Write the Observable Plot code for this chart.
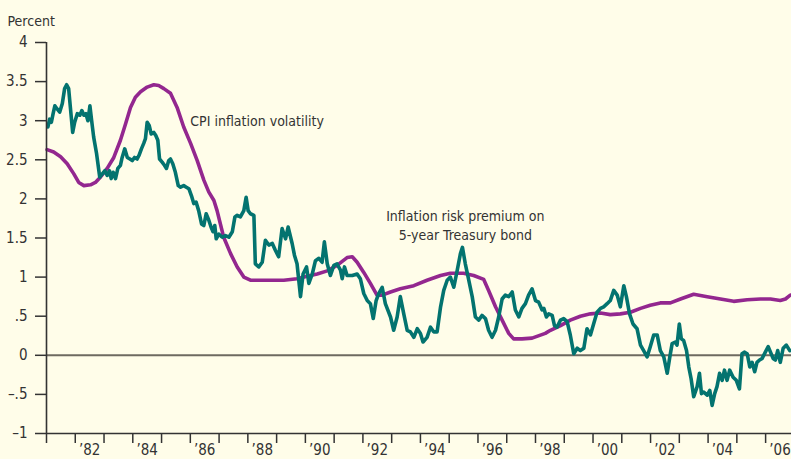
<!DOCTYPE html>
<html><head><meta charset="utf-8">
<script src="https://cdn.jsdelivr.net/npm/d3@7"></script>
<script src="https://cdn.jsdelivr.net/npm/@observablehq/plot@0.6"></script>
<style>
html,body{margin:0;padding:0;background:#FFFDE9;}
#chart svg{display:block;}
</style></head><body><div id="chart"></div>
<script>
// Inflation risk premium on 5-year Treasury bond (teal)
const premiumDates = [1981.05,1981.11,1981.17,1981.23,1981.29,1981.37,1981.46,1981.55,1981.63,1981.70,1981.77,1981.83,1981.91,1981.98,
1982.07,1982.16,1982.23,1982.30,1982.37,1982.44,1982.51,1982.57,1982.64,1982.74,1982.85,1982.94,
1983.03,1983.11,1983.19,1983.25,1983.32,1983.40,1983.48,1983.57,1983.63,1983.72,1983.81,1983.90,1983.98,
1984.06,1984.15,1984.22,1984.30,1984.38,1984.44,1984.50,1984.57,1984.64,1984.73,1984.80,1984.87,1984.93,
1985.02,1985.10,1985.17,1985.25,1985.31,1985.39,1985.48,1985.58,1985.66,1985.77,1985.86,1985.95,
1986.04,1986.12,1986.20,1986.29,1986.39,1986.47,1986.55,1986.64,1986.72,1986.79,1986.85,1986.90,1986.99,
1987.11,1987.22,1987.34,1987.46,1987.55,1987.63,1987.74,1987.86,1987.94,
1988.01,1988.09,1988.21,1988.26,1988.38,1988.50,1988.61,1988.73,1988.85,1988.96,
1989.07,1989.19,1989.31,1989.40,1989.54,1989.62,1989.71,1989.83,1989.92,
1990.04,1990.12,1990.24,1990.35,1990.47,1990.58,1990.66,1990.76,1990.87,1990.99,
1991.10,1991.22,1991.28,1991.36,1991.45,1991.63,1991.80,1991.91,
1992.03,1992.15,1992.26,1992.36,1992.46,1992.55,1992.67,1992.78,1992.96,
1993.07,1993.19,1993.30,1993.42,1993.54,1993.65,1993.77,1993.89,
1994.00,1994.09,1994.23,1994.35,1994.46,1994.58,1994.70,1994.81,1994.93,
1995.04,1995.16,1995.28,1995.39,1995.46,1995.56,1995.68,1995.80,1995.91,
1996.03,1996.14,1996.26,1996.37,1996.49,1996.61,1996.72,1996.84,1996.95,
1997.07,1997.19,1997.30,1997.42,1997.53,1997.65,1997.76,1997.88,
1998.00,1998.11,1998.23,1998.29,1998.38,1998.46,1998.58,1998.66,1998.75,1998.87,1998.98,
1999.10,1999.21,1999.33,1999.45,1999.56,1999.68,1999.79,1999.91,
2000.02,2000.14,2000.26,2000.37,2000.49,2000.60,2000.72,2000.84,2000.95,
2001.07,2001.16,2001.27,2001.39,2001.53,2001.65,2001.76,2001.88,2001.99,
2002.11,2002.23,2002.34,2002.46,2002.58,2002.67,2002.75,2002.86,2002.92,
2003.00,2003.07,2003.15,2003.25,2003.33,2003.41,2003.50,2003.62,2003.70,2003.77,2003.85,2003.97,
2004.06,2004.14,2004.23,2004.31,2004.40,2004.49,2004.57,2004.66,2004.75,2004.87,2004.98,
2005.09,2005.18,2005.26,2005.36,2005.45,2005.53,2005.62,2005.70,2005.79,2005.88,2005.99,
2006.09,2006.17,2006.26,2006.34,2006.42,2006.51,2006.61,2006.72,2006.84];
const premiumValues = [2.92,3.02,2.98,3.09,3.19,3.15,3.11,3.22,3.41,3.46,3.41,3.17,2.85,2.98,
3.09,3.07,3.13,3.07,3.09,3.00,3.19,3.00,2.79,2.58,2.28,2.32,
2.36,2.30,2.36,2.26,2.34,2.26,2.39,2.43,2.53,2.64,2.53,2.51,2.49,
2.53,2.51,2.56,2.64,2.71,2.77,2.98,2.94,2.83,2.85,2.81,2.75,2.51,
2.47,2.43,2.39,2.49,2.51,2.45,2.34,2.17,2.15,2.17,2.15,2.13,
2.04,1.94,1.96,1.85,1.68,1.66,1.81,1.73,1.64,1.58,1.66,1.49,1.55,
1.51,1.53,1.51,1.58,1.77,1.79,1.77,1.85,2.02,
1.85,1.81,1.79,1.17,1.13,1.19,1.47,1.41,1.43,1.34,
1.26,1.62,1.49,1.64,1.43,1.28,1.17,0.75,1.04,
1.13,0.92,1.04,1.21,1.24,1.19,1.45,1.17,1.02,1.15,
1.17,1.09,0.98,1.13,1.02,1.02,1.04,0.98,
0.79,0.70,0.66,0.47,0.70,0.79,0.87,0.66,0.49,
0.32,0.49,0.75,0.53,0.32,0.30,0.23,0.34,
0.28,0.17,0.23,0.36,0.30,0.30,0.62,0.83,0.96,
1.00,0.87,1.09,1.30,1.38,1.17,0.96,0.75,0.49,
0.45,0.51,0.47,0.32,0.23,0.32,0.49,0.72,0.77,
0.75,0.81,0.58,0.49,0.60,0.66,0.77,0.85,
0.70,0.68,0.58,0.60,0.49,0.53,0.51,0.38,0.36,0.45,0.47,
0.43,0.26,0.02,0.09,0.06,0.09,0.34,0.26,
0.40,0.55,0.60,0.62,0.66,0.70,0.83,0.77,0.62,
0.89,0.75,0.53,0.40,0.34,0.13,0.06,-0.02,0.11,
0.26,0.26,0.06,-0.02,-0.23,-0.02,0.15,0.17,0.13,
0.40,0.21,0.19,0.06,-0.15,-0.30,-0.53,-0.40,-0.23,-0.49,-0.47,-0.51,
-0.45,-0.64,-0.49,-0.40,-0.23,-0.32,-0.19,-0.32,-0.19,-0.28,-0.32,
-0.43,0.02,0.04,0.02,-0.15,-0.09,-0.21,-0.09,-0.06,-0.04,0.04,
0.11,0.04,-0.04,-0.06,0.06,-0.09,0.09,0.13,0.06];

// CPI inflation volatility (purple)
const volatilityDates = [1981.02,1981.25,1981.49,1981.72,1981.95,1982.12,1982.30,1982.53,1982.70,1982.88,
1983.11,1983.34,1983.57,1983.75,1983.92,1984.09,1984.27,1984.50,1984.73,1984.90,
1985.08,1985.31,1985.54,1985.77,1986.01,1986.24,1986.47,1986.64,1986.82,1986.93,
1987.16,1987.40,1987.63,1987.86,1988.09,1988.67,1989.25,1989.71,1990.06,1990.41,1990.76,
1991.10,1991.45,1991.63,1991.80,1992.03,1992.26,1992.49,1992.67,1992.96,1993.30,1993.77,
1994.23,1994.70,1995.04,1995.50,1995.85,1996.20,1996.37,1996.61,1996.84,1997.07,1997.24,
1997.53,1997.88,1998.34,1998.52,1998.87,1999.21,1999.56,1999.91,2000.26,2000.60,2000.95,
2001.30,2001.65,2001.99,2002.34,2002.69,2003.04,2003.50,2003.97,2004.43,2004.89,2005.36,
2005.82,2006.17,2006.51,2006.69,2006.86];
const volatilityValues = [2.63,2.60,2.54,2.45,2.32,2.21,2.17,2.18,2.21,2.28,
2.39,2.53,2.75,2.96,3.17,3.30,3.37,3.43,3.46,3.45,
3.41,3.35,3.17,2.92,2.71,2.49,2.24,2.09,1.98,1.85,
1.51,1.30,1.13,1.00,0.96,0.96,0.96,0.98,1.01,1.04,1.08,
1.15,1.25,1.26,1.19,1.06,0.92,0.77,0.77,0.81,0.85,0.89,
0.96,1.02,1.05,1.05,1.02,0.97,0.83,0.62,0.45,0.28,0.21,
0.21,0.22,0.28,0.32,0.38,0.45,0.50,0.53,0.54,0.52,0.53,
0.55,0.60,0.64,0.67,0.67,0.72,0.78,0.75,0.72,0.69,0.71,
0.72,0.72,0.70,0.72,0.77];

const yTicks = [-1,-0.5,0,0.5,1,1.5,2,2.5,3,3.5,4];
const yTickLabels = ["\u20131","\u2013.5","0",".5","1","1.5","2","2.5","3","3.5","4"];
const xTickYears = [1981,1982,1983,1984,1985,1986,1987,1988,1989,1990,1991,1992,1993,1994,1995,1996,1997,1998,1999,2000,2001,2002,2003,2004,2005,2006];
const xLabelYears = [1982,1984,1986,1988,1990,1992,1994,1996,1998,2000,2002,2004,2006];
const xLabels = ["\u201982","\u201984","\u201986","\u201988","\u201990","\u201992","\u201994","\u201996","\u201998","\u201900","\u201902","\u201904","\u201906"];

const premium = premiumDates.map((d, i) => ({date: d, value: premiumValues[i]}));
const volatility = volatilityDates.map((d, i) => ({date: d, value: volatilityValues[i]}));
const yLabelMap = new Map(yTicks.map((t, i) => [t, yTickLabels[i]]));
const xLabelMap = new Map(xLabelYears.map((t, i) => [t, xLabels[i]]));

const ink = "#333333";
const chart = Plot.plot({
  width: 791, height: 459,
  marginLeft: 46, marginRight: 0, marginTop: 42, marginBottom: 26,
  x: {domain: [1981, 2006.9]},
  y: {domain: [-1, 4]},
  style: {background: "transparent", fontFamily: "'Liberation Sans Narrow','DejaVu Sans Condensed','Arial Narrow',sans-serif", fontSize: "15px", color: ink},
  marks: [
    Plot.ruleY([0], {stroke: "#6e6a60", strokeWidth: 2}),
    Plot.line(volatility, {x: "date", y: "value", stroke: "#93278F", strokeWidth: 3.6}),
    Plot.line(premium, {x: "date", y: "value", stroke: "#03736F", strokeWidth: 3.6}),
    Plot.axisY({ticks: yTicks, tickFormat: d => yLabelMap.get(d), tickSize: 11, tickPadding: 8, stroke: ink, strokeWidth: 1.5, fill: ink, label: null}),
    Plot.ruleX([1981], {y1: -1, y2: 4, stroke: ink, strokeWidth: 1.6}),
    Plot.ruleY([-1], {stroke: ink, strokeWidth: 1.6}),
    Plot.axisX({ticks: xTickYears, tickFormat: () => "", tickSize: 10, stroke: ink, strokeWidth: 1.5, label: null}),
    Plot.text(xLabelYears, {x: d => d + 0.5, text: d => xLabelMap.get(d), frameAnchor: "bottom", lineAnchor: "middle", dy: 17, fill: ink}),
    Plot.text(["CPI inflation volatility"], {x: 1986.0, y: 2.99, textAnchor: "start", fill: ink, fontSize: 14}),
    Plot.text(["Inflation risk premium on\n5-year Treasury bond"], {x: 1995.56, y: 1.67, textAnchor: "middle", lineAnchor: "middle", lineHeight: 1.3, fill: ink, fontSize: 14}),
    Plot.text(["Percent"], {frameAnchor: "top-left", lineAnchor: "middle", dx: -39, dy: -21, textAnchor: "start", fill: ink, fontSize: 14})
  ]
});
document.getElementById("chart").append(chart);
</script></body></html>
